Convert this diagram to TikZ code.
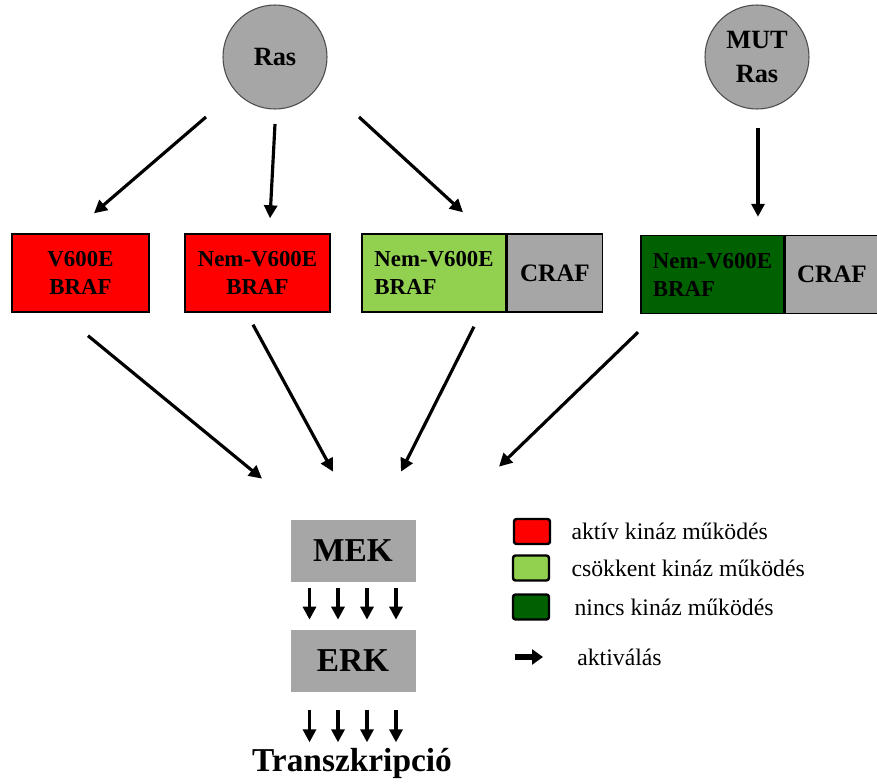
\documentclass[tikz,border=0pt]{standalone}
\usepackage{fontspec}
\setmainfont{Liberation Serif}
\usepackage{tikz}
\usepackage{xcolor}
\usetikzlibrary{arrows.meta,positioning,calc}
\definecolor{activ}{HTML}{FF0000}
\definecolor{reduced}{HTML}{92D050}
\definecolor{nokin}{HTML}{006100}
\definecolor{kinase}{HTML}{A6A6A6}

\begin{document}
\begin{tikzpicture}[>={Triangle[length=2.6mm,width=2.6mm]},
  act/.style={->,line width=1.8pt},
  ras/.style={circle,fill=kinase,draw=black!70,line width=0.6pt,minimum size=2.08cm,
              align=center,font=\fontsize{15}{19}\selectfont\bfseries},
  prot/.style={draw=black,line width=0.8pt,minimum height=1.56cm,inner sep=0pt,
               font=\fontsize{13}{16}\selectfont\bfseries},
  craf/.style={prot,fill=kinase,minimum width=1.9cm,font=\fontsize{14.3}{17}\selectfont\bfseries},
  cascade/.style={fill=kinase,minimum width=2.5cm,minimum height=1.24cm,
                  font=\fontsize{19}{22}\selectfont\bfseries},
  legbox/.style={draw=black,line width=1.4pt,rounded corners=1.5pt,minimum width=0.72cm,
                 minimum height=0.5cm,inner sep=0pt},
  legtext/.style={inner sep=0pt,font=\fontsize{13.5}{16}\selectfont}]
  \useasboundingbox (0,0) rectangle (17.54,15.66);

  % Ras
  \node[ras] (ras) at (5.5,14.52) {Ras};
  \node[ras] (mutras) at (15.14,14.52) {MUT\\Ras};

  % BRAF / CRAF
  \node[prot,fill=activ,minimum width=2.74cm,align=center] (v600) at (1.61,10.2) {V600E\\BRAF};
  \node[prot,fill=activ,minimum width=2.9cm,align=center] (nemred) at (5.15,10.2) {Nem-V600E\\BRAF};
  \node[prot,fill=reduced,minimum width=2.88cm,align=left] (nemlg) at (8.68,10.2) {Nem-V600E\\BRAF};
  \node[craf,right=0pt of nemlg] (craf1) {CRAF};
  \node[prot,fill=nokin,minimum width=2.86cm,align=left] (nemdg) at (14.25,10.17) {Nem-V600E\\BRAF};
  \node[craf,right=0pt of nemdg,minimum width=1.86cm] (craf2) {CRAF};

  \draw[act] ($(ras)+(-1.38,-1.20)$) -- ($(v600.north)+(0.27,0.40)$);
  \draw[act] ($(ras)+(0,-1.34)$) -- ($(nemred.north)+(0.25,0.30)$);
  \draw[act] ($(ras)+(1.68,-1.20)$) -- ($(nemlg.north)+(0.58,0.42)$);
  \draw[act] ($(mutras)+(0.02,-1.42)$) -- ($(nemdg.north)+(0.91,0.36)$);

  % MEK / ERK
  \node[cascade] (mek) at (7.06,4.64) {MEK};
  \node[cascade] (erk) at (7.06,2.44) {ERK};
  \node[font=\fontsize{19}{22}\selectfont\bfseries] (trans) at (7.04,0.40) {Transzkripció};

  \draw[act] ($(v600.south)+(0.15,-0.46)$) -- ($(mek.north)+(-1.82,0.82)$);
  \draw[act] ($(nemred.south)+(-0.09,-0.24)$) -- ($(mek.north)+(-0.40,0.96)$);
  \draw[act] ($(nemlg.south)+(0.80,-0.28)$) -- ($(mek.north)+(0.96,0.96)$);
  \draw[act] ($(nemdg.south)+(-1.49,-0.36)$) -- ($(mek.north)+(2.92,1.06)$);

  \foreach \dx in {-0.87,-0.3,0.28,0.86}{
    \draw[act] ($(mek.south)+(\dx,-0.12)$) -- ($(erk.north)+(\dx,0.20)$);
    \draw[act] ($(erk.south)+(\dx,-0.36)$) -- ++(0,-0.64);
  }

  % legend
  \node[legbox,fill=activ] (lgred) at (10.64,5.03) {};
  \node[legtext,right=0.4cm of lgred] (lgtred) {aktív kináz működés};
  \node[legbox,fill=reduced] (lglg) at (10.62,4.30) {};
  \node[legtext,right=0.42cm of lglg] (lgtlg) {csökkent kináz működés};
  \node[legbox,fill=nokin] (lgdg) at (10.62,3.52) {};
  \node[legtext,right=0.48cm of lgdg] (lgtdg) {nincs kináz működés};
  \node[legtext,anchor=west] (lgtact) at (11.54,2.52) {aktiválás};
  \draw[-{Triangle[length=2.2mm,width=3mm]},line width=3.2pt]
    ($(lgtact.west)+(-1.24,0)$) -- ($(lgtact.west)+(-0.68,0)$);
\end{tikzpicture}
\end{document}
